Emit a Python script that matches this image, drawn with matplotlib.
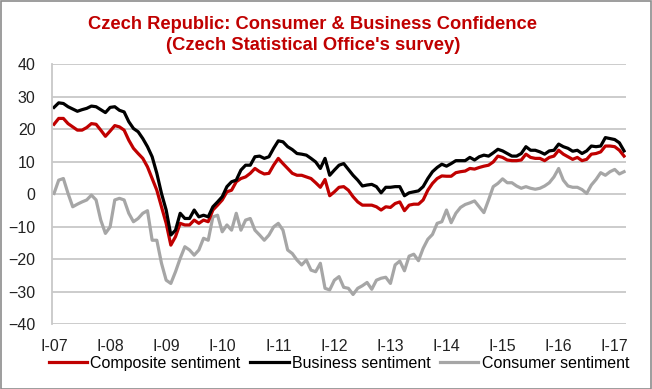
import matplotlib
matplotlib.use('Agg')
import matplotlib.pyplot as plt
from matplotlib.patches import Rectangle

# monthly data, I-2007 .. III-2017
years = ['I-07', 'I-08', 'I-09', 'I-10', 'I-11', 'I-12', 'I-13', 'I-14',
         'I-15', 'I-16', 'I-17']

composite = [
    21.5, 23.3, 23.3, 21.7, 20.7, 19.7, 19.7, 20.5, 21.7, 21.5, 19.7, 17.8,
    19.4, 21.1, 20.7, 19.7, 16.6, 14.1, 12.5, 11.0, 8.4, 4.8, 1.2, -3.9,
    -9.0, -15.7, -13.1, -9.0, -9.5, -9.5, -8.0, -9.0, -8.0, -8.5, -4.9, -3.4,
    -1.8, 0.7, 1.2, 3.8, 4.8, 5.3, 6.4, 7.9, 6.9, 6.2, 6.4, 8.9,
    11.0, 9.4, 7.9, 6.4, 5.8, 5.8, 5.3, 4.8, 3.5, 2.1, 4.5, -0.5,
    0.7, 2.1, 2.3, 1.2, -0.8, -2.4, -3.4, -3.4, -3.4, -3.9, -4.9, -3.9,
    -4.1, -2.9, -2.4, -5.1, -3.4, -3.1, -3.1, -1.8, 1.2, 3.3, 4.8, 5.6,
    5.5, 5.5, 6.6, 6.9, 7.1, 7.9, 7.7, 8.2, 8.6, 8.9, 9.9, 11.7,
    11.3, 10.5, 10.3, 10.3, 10.5, 12.3, 11.3, 11.0, 11.0, 10.3, 11.3, 11.7,
    13.5, 12.3, 11.5, 10.7, 11.3, 10.3, 10.7, 12.3, 12.5, 13.0, 14.8, 14.8,
    14.6, 13.5, 11.7,
]

business = [
    26.7, 28.1, 27.9, 26.9, 26.2, 25.5, 26.0, 26.4, 27.1, 26.9, 26.0, 25.1,
    26.7, 26.9, 25.8, 25.3, 22.3, 20.2, 19.2, 17.1, 14.6, 11.5, 6.4, 0.2,
    -4.9, -12.6, -11.1, -5.9, -7.5, -7.5, -4.9, -7.0, -6.5, -7.0, -3.9, -2.4,
    -0.8, 2.3, 3.8, 4.3, 7.4, 8.9, 8.9, 11.5, 11.7, 11.0, 11.5, 14.1,
    16.4, 16.1, 14.6, 13.7, 12.5, 12.3, 12.0, 11.0, 9.9, 7.9, 11.0, 5.8,
    7.4, 8.9, 9.4, 7.6, 5.8, 4.3, 2.5, 2.8, 3.0, 2.3, 0.4, 2.1,
    2.1, 2.3, 2.3, -0.5, 0.4, 0.7, 1.0, 2.3, 4.8, 6.9, 8.2, 9.2,
    8.6, 9.4, 10.3, 10.3, 10.3, 11.3, 10.5, 11.5, 12.0, 11.7, 12.7, 13.8,
    13.3, 12.5, 11.7, 11.7, 12.5, 14.6, 13.5, 13.5, 13.0, 12.3, 13.3, 13.5,
    15.4, 14.6, 14.1, 13.2, 13.5, 12.5, 13.3, 14.8, 14.6, 14.8, 17.4, 17.1,
    16.8, 15.8, 13.3,
]

consumer = [
    0.2, 4.3, 4.8, 0.2, -3.9, -3.1, -2.4, -1.8, -0.3, -1.8, -8.0, -12.1,
    -10.1, -1.8, -1.3, -1.8, -5.9, -8.5, -7.5, -5.9, -5.1, -14.2, -14.2, -21.3,
    -26.5, -27.5, -23.9, -19.8, -16.2, -17.2, -18.8, -17.2, -13.6, -14.2, -7.0, -6.5,
    -11.6, -9.5, -11.1, -5.9, -11.1, -8.0, -7.5, -11.1, -12.6, -14.2, -12.6, -10.1,
    -9.0, -11.1, -17.2, -18.3, -20.3, -21.8, -20.3, -23.4, -23.9, -21.3, -29.0, -29.5,
    -26.5, -25.4, -28.7, -29.0, -30.9, -29.0, -28.2, -27.2, -29.3, -26.5, -25.9, -25.6,
    -27.5, -21.8, -20.6, -23.6, -19.1, -18.5, -20.5, -16.7, -13.9, -12.4, -9.0, -8.5,
    -4.9, -8.8, -5.9, -4.1, -3.2, -2.7, -2.1, -3.9, -5.7, -1.8, 2.3, 3.3,
    4.7, 3.5, 3.5, 2.5, 1.8, 2.3, 1.8, 1.5, 1.8, 2.5, 3.5, 5.3,
    7.9, 4.3, 2.5, 2.1, 2.1, 1.4, 0.2, 2.8, 4.5, 6.6, 5.8, 6.9,
    7.6, 6.2, 6.9,
]

plt.rcParams['font.family'] = ['Liberation Sans', 'DejaVu Sans']

fig = plt.figure(figsize=(6.52, 3.89), dpi=100)
ax = fig.add_axes([0.080, 0.167, 0.880, 0.668])

months = list(range(len(composite)))
ax.plot(months, consumer, color='#A6A6A6', lw=2.3, label='Consumer sentiment',
        solid_joinstyle='round')
ax.plot(months, composite, color='#C00000', lw=2.3, label='Composite sentiment',
        solid_joinstyle='round')
ax.plot(months, business, color='black', lw=2.3, label='Business sentiment',
        solid_joinstyle='round')

ax.set_ylim(-40, 40)
ax.set_yticks(range(-40, 41, 10))
ax.set_xlim(-0.4, 122.4)
ax.set_xticks(range(0, 121, 12))
ax.set_xticklabels(years)
ax.tick_params(length=0, labelsize=11.5, colors='#222222')
ax.tick_params(axis='x', pad=11)
ax.tick_params(axis='y', pad=12)
ax.grid(axis='y', color='#C8C8C8', lw=1.3)
ax.set_axisbelow(True)
for s in ['top', 'right', 'bottom']:
    ax.spines[s].set_visible(False)
ax.spines['left'].set_color('#C8C8C8')
ax.spines['left'].set_linewidth(1.3)

handles, labels = ax.get_legend_handles_labels()
order = [1, 2, 0]
fig.legend([handles[i] for i in order], [labels[i] for i in order],
           loc='center', bbox_to_anchor=(0.52, 0.066), ncol=3, frameon=False,
           fontsize=11.5, handlelength=2.4, handletextpad=0.2,
           columnspacing=0.6)

fig.text(0.48, 0.91, 'Czech Republic: Consumer & Business Confidence\n'
         "(Czech Statistical Office's survey)", ha='center', va='center',
         color='#C00000', fontsize=13.2, fontweight='bold', linespacing=1.3)

fig.patches.append(Rectangle((0.001, 0.001), 0.997, 0.997,
                             transform=fig.transFigure, fill=False,
                             edgecolor='#8C8C8C', lw=1.2))

fig.savefig('out.png', dpi=100)
